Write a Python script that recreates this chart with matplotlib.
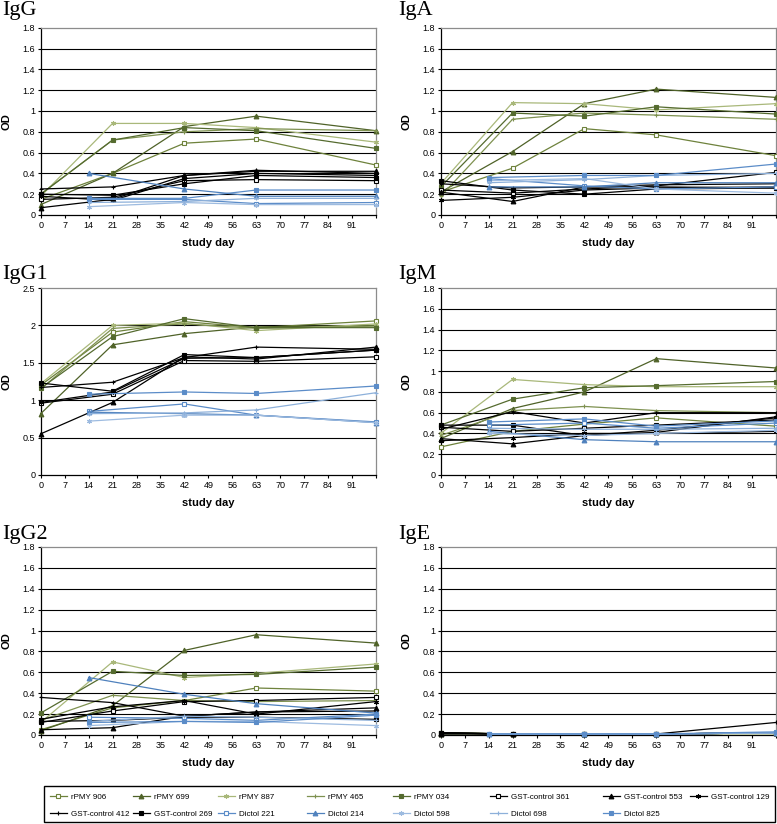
import matplotlib
matplotlib.use("Agg")
import matplotlib.pyplot as plt
from matplotlib.patches import Rectangle

plt.rcParams['font.family'] = ['Liberation Sans', 'DejaVu Sans']

# ---------------- data ----------------
series_names = ["rPMY 906", "rPMY 699", "rPMY 887", "rPMY 465", "rPMY 034",
                "GST-control 361", "GST-control 553", "GST-control 129",
                "GST-control 412", "GST-control 269",
                "Dictol 221", "Dictol 214", "Dictol 598", "Dictol 698", "Dictol 825"]

days_main = [0, 21, 42, 63, 98]      # rPMY and GST-control
days_dictol = [14, 42, 63, 98]       # Dictol

x_ticks = list(range(0, 99, 7))
x_tick_labels = [str(d) for d in range(0, 92, 7)] + [""]

IgG = [
    [0.15, 0.40, 0.69, 0.73, 0.48],
    [0.10, 0.40, 0.85, 0.95, 0.81],
    [0.18, 0.88, 0.88, 0.84, 0.70],
    [0.20, 0.72, 0.80, 0.83, 0.81],
    [0.20, 0.72, 0.84, 0.81, 0.64],
    [0.15, 0.17, 0.33, 0.34, 0.33],
    [0.07, 0.15, 0.38, 0.42, 0.42],
    [0.18, 0.14, 0.35, 0.40, 0.38],
    [0.25, 0.27, 0.38, 0.43, 0.40],
    [0.20, 0.19, 0.30, 0.38, 0.36],
    [0.15, 0.15, 0.11, 0.12],
    [0.40, 0.25, 0.18, 0.18],
    [0.08, 0.12, 0.10, 0.10],
    [0.12, 0.13, 0.16, 0.16],
    [0.16, 0.16, 0.24, 0.24],
]

IgA = [
    [0.22, 0.45, 0.83, 0.77, 0.57],
    [0.22, 0.61, 1.07, 1.21, 1.13],
    [0.30, 1.08, 1.07, 1.01, 1.07],
    [0.18, 0.92, 0.98, 0.96, 0.92],
    [0.27, 0.98, 0.95, 1.04, 0.97],
    [0.24, 0.21, 0.25, 0.28, 0.41],
    [0.22, 0.13, 0.27, 0.29, 0.30],
    [0.14, 0.17, 0.24, 0.26, 0.27],
    [0.30, 0.26, 0.27, 0.27, 0.26],
    [0.33, 0.24, 0.20, 0.25, 0.26],
    [0.35, 0.28, 0.25, 0.27],
    [0.27, 0.27, 0.31, 0.31],
    [0.33, 0.35, 0.25, 0.21],
    [0.31, 0.34, 0.38, 0.40],
    [0.36, 0.38, 0.38, 0.49],
]

IgG1 = [
    [1.20, 1.91, 2.05, 1.97, 2.06],
    [0.82, 1.74, 1.89, 1.98, 2.00],
    [1.22, 2.00, 2.03, 1.93, 2.02],
    [1.15, 1.96, 2.02, 1.96, 1.99],
    [1.16, 1.85, 2.09, 1.97, 1.97],
    [0.96, 1.08, 1.53, 1.52, 1.58],
    [0.55, 0.97, 1.58, 1.55, 1.71],
    [0.97, 1.11, 1.56, 1.57, 1.67],
    [1.17, 1.24, 1.57, 1.71, 1.68],
    [1.23, 1.12, 1.61, 1.57, 1.67],
    [0.85, 0.95, 0.80, 0.71],
    [0.84, 0.82, 0.80, 0.70],
    [0.72, 0.80, 0.80, 0.70],
    [0.82, 0.83, 0.87, 1.10],
    [1.08, 1.11, 1.09, 1.19],
]

IgM = [
    [0.27, 0.42, 0.49, 0.55, 0.47],
    [0.35, 0.64, 0.80, 1.12, 1.03],
    [0.40, 0.92, 0.87, 0.85, 0.85],
    [0.38, 0.62, 0.66, 0.62, 0.60],
    [0.48, 0.73, 0.84, 0.86, 0.90],
    [0.46, 0.42, 0.45, 0.48, 0.53],
    [0.35, 0.30, 0.38, 0.41, 0.56],
    [0.33, 0.36, 0.40, 0.40, 0.42],
    [0.44, 0.61, 0.50, 0.60, 0.60],
    [0.48, 0.48, 0.38, 0.43, 0.55],
    [0.48, 0.50, 0.45, 0.50],
    [0.42, 0.34, 0.32, 0.32],
    [0.40, 0.38, 0.40, 0.43],
    [0.45, 0.44, 0.44, 0.45],
    [0.51, 0.54, 0.47, 0.52],
]

IgG2 = [
    [0.05, 0.26, 0.33, 0.45, 0.42],
    [0.04, 0.28, 0.81, 0.96, 0.88],
    [0.12, 0.70, 0.55, 0.59, 0.68],
    [0.14, 0.38, 0.33, 0.32, 0.33],
    [0.21, 0.61, 0.57, 0.58, 0.65],
    [0.12, 0.23, 0.32, 0.33, 0.36],
    [0.05, 0.07, 0.18, 0.22, 0.26],
    [0.15, 0.27, 0.33, 0.20, 0.32],
    [0.36, 0.31, 0.18, 0.22, 0.23],
    [0.13, 0.14, 0.17, 0.17, 0.15],
    [0.17, 0.16, 0.14, 0.20],
    [0.55, 0.39, 0.30, 0.21],
    [0.09, 0.13, 0.13, 0.09],
    [0.13, 0.18, 0.17, 0.14],
    [0.12, 0.13, 0.12, 0.19],
]

IgE = [
    [0.02, 0.01, 0.01, 0.01, 0.02],
    [0.01, 0.01, 0.01, 0.01, 0.02],
    [0.02, 0.01, 0.01, 0.01, 0.01],
    [0.02, 0.01, 0.01, 0.01, 0.02],
    [0.02, 0.01, 0.01, 0.01, 0.02],
    [0.02, 0.01, 0.01, 0.01, 0.02],
    [0.01, 0.01, 0.01, 0.01, 0.02],
    [0.02, 0.01, 0.01, 0.01, 0.02],
    [0.02, 0.01, 0.01, 0.01, 0.12],
    [0.02, 0.01, 0.01, 0.01, 0.02],
    [0.01, 0.01, 0.01, 0.02],
    [0.01, 0.01, 0.01, 0.02],
    [0.01, 0.01, 0.01, 0.02],
    [0.01, 0.01, 0.01, 0.02],
    [0.01, 0.01, 0.01, 0.03],
]

panel_titles = ["IgG", "IgA", "IgG1", "IgM", "IgG2", "IgE"]
panel_data = [IgG, IgA, IgG1, IgM, IgG2, IgE]
panel_ymax = [1.8, 1.8, 2.5, 1.8, 1.8, 1.8]
panel_ystep = [0.2, 0.2, 0.5, 0.2, 0.2, 0.2]

# ---------------- styles ----------------
styles = [
    dict(color="#6E823C", marker="s", mfc="white"),
    dict(color="#4F6228", marker="^", mfc="#4F6228"),
    dict(color="#A9B87A", marker=(6, 2, 0), mfc="#A9B87A"),
    dict(color="#7E9150", marker="+", mfc="#7E9150"),
    dict(color="#556B2F", marker="s", mfc="#556B2F"),
    dict(color="#000000", marker="s", mfc="white"),
    dict(color="#000000", marker="^", mfc="#000000"),
    dict(color="#000000", marker=(6, 2, 0), mfc="#000000"),
    dict(color="#000000", marker="+", mfc="#000000"),
    dict(color="#000000", marker="s", mfc="#000000"),
    dict(color="#5B8CC8", marker="s", mfc="white"),
    dict(color="#4F81BD", marker="^", mfc="#4F81BD"),
    dict(color="#9DBBE0", marker=(6, 2, 0), mfc="#9DBBE0"),
    dict(color="#8DB0DA", marker="+", mfc="#8DB0DA"),
    dict(color="#5B8CC8", marker="s", mfc="#5B8CC8"),
]

W, H = 777, 824
fig = plt.figure(figsize=(W / 100, H / 100), dpi=100)

col_left = [40.7, 440.7]
ax_w = 335.3
row_top = [27.7, 288.0, 547.0]
row_bottom = [215.0, 475.0, 735.0]
title_base = [15, 279, 539]
title_x = [2, 398]

handles = []
for i, (title, data) in enumerate(zip(panel_titles, panel_data)):
    r, c = divmod(i, 2)
    left = col_left[c] / W
    bottom = 1 - row_bottom[r] / H
    height = (row_bottom[r] - row_top[r]) / H
    ax = fig.add_axes([left, bottom, ax_w / W, height])
    ymax = panel_ymax[i]
    step = panel_ystep[i]
    n = int(round(ymax / step))
    yt = [round(k * step, 2) for k in range(n + 1)]
    for gy in yt[1:-1]:
        ax.axhline(gy, color="black", lw=0.8, zorder=1)
    hs = []
    for k, vals in enumerate(data):
        st = styles[k]
        xs = days_dictol if k >= 10 else days_main
        h, = ax.plot(xs, vals, color=st["color"], lw=0.9, marker=st["marker"],
                     ms=3.4, mfc=st["mfc"], mec=st["color"], mew=0.8,
                     zorder=3, clip_on=False)
        hs.append(h)
    if i == 0:
        handles = hs
    ax.set_xlim(0, 98)
    ax.set_ylim(0, ymax)
    ax.set_xticks(x_ticks)
    ax.set_xticklabels(x_tick_labels)
    ax.set_yticks(yt)
    ax.set_yticklabels([("%g" % v) for v in yt])
    ax.tick_params(axis="both", labelsize=6.5, length=2.5, width=0.8,
                   direction="out", pad=1.5, colors="black")
    for s in ["left", "bottom"]:
        ax.spines[s].set_color("black")
        ax.spines[s].set_linewidth(0.9)
    for s in ["top", "right"]:
        ax.spines[s].set_color("#8C8C8C")
        ax.spines[s].set_linewidth(0.9)
    ax.set_xlabel("study day", fontsize=8, fontweight="bold")
    ax.xaxis.set_label_coords(0.5, -23 / (row_bottom[r] - row_top[r]))
    ax.set_ylabel("OD", fontsize=8, fontweight="bold")
    ax.yaxis.set_label_coords(-29.5 / ax_w, 0.5)
    fig.text(title_x[c] / W, 1 - title_base[r] / H, title,
             family="Liberation Serif", fontsize=16, ha="left",
             va="baseline")

# ---------------- legend ----------------
leg_box = Rectangle((44 / W, 1 - 822 / H), (775 - 44) / W, 36 / H,
                    transform=fig.transFigure, fill=False, edgecolor="black",
                    lw=1.0)
fig.add_artist(leg_box)

col_groups = [[0, 8], [1, 9], [2, 10], [3, 11], [4, 12], [5, 13], [6, 14], [7]]
col_x = [48, 131, 216, 305, 391, 488, 601, 688]
for grp, cx in zip(col_groups, col_x):
    fig.legend([handles[k] for k in grp], [series_names[k] for k in grp],
               loc="upper left", bbox_to_anchor=(cx / W, 1 - 792 / H),
               frameon=False, fontsize=5.8, handlelength=2.2,
               handletextpad=0.5, labelspacing=1.15, borderpad=0.2,
               borderaxespad=0)

fig.savefig("out.png", dpi=100)
